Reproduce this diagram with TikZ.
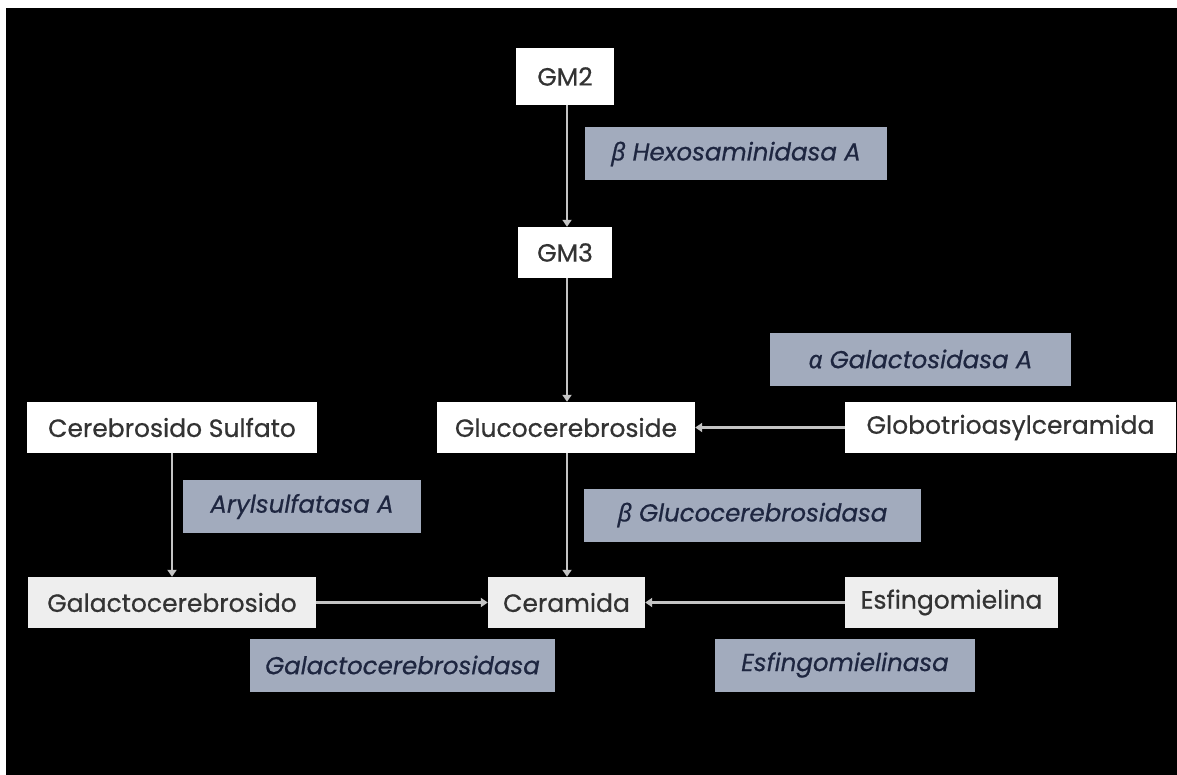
\documentclass[tikz,border=0pt]{standalone}
\usepackage{fontspec}
\setmainfont{Poppins}[FakeBold=0.6]
\newfontfamily\greekfont{Noto Sans}[FakeBold=0.6]
\usetikzlibrary{arrows.meta}
\definecolor{boxtext}{HTML}{333333}
\definecolor{enzfill}{HTML}{A2ABBD}
\definecolor{enztext}{HTML}{1E2640}
\definecolor{arrowcol}{HTML}{C4C4C4}
\definecolor{offwhite}{HTML}{EEEEEE}
\tikzset{
  wbox/.style={fill=white, draw=none, text=boxtext, inner sep=0pt, minimum height=51pt, font=\fontsize{25}{27}\selectfont},
  gbox/.style={wbox, fill=offwhite},
  enz/.style={fill=enzfill, draw=none, text=enztext, inner sep=0pt, minimum height=53pt, font=\fontsize{24.5}{27}\selectfont\itshape},
  arr/.style={draw=arrowcol, line width=2.6pt, -{Triangle[width=9pt,length=7pt]}}
}
\newcommand{\gk}[1]{{\greekfont\itshape #1}}
\begin{document}
\begin{tikzpicture}[x=1pt,y=-1pt]
\useasboundingbox (0,0) rectangle (1177,775);
\fill[white] (0,0) rectangle (1177,775);
\fill[black] (6,8) rectangle (1177,775);
% substrate boxes
\node[wbox, minimum width=98pt, minimum height=57pt] (gm2) at (565,76.5) {GM2};
\node[wbox, minimum width=94pt] (gm3) at (565,252.5) {GM3};
\node[wbox, minimum width=290pt] (cs) at (172,427.5) {Cerebrosido Sulfato};
\node[gbox, minimum width=288pt] (gal) at (172,602.5) {Galactocerebrosido};
\node[wbox, minimum width=258pt] (glu) at (566,427.5) {Glucocerebroside};
\node[wbox, minimum width=331pt] (glob) at (1010.5,427.5) {Globotrioasylceramida};
\node[gbox, minimum width=157pt] (cer) at (566.5,602.5) {Ceramida};
\node[gbox, minimum width=213pt] (esf) at (951.5,602.5) {Esfingomielina};
% enzyme boxes
\node[enz, minimum width=302pt] (hex) at (736,154) {\gk{β} Hexosaminidasa A};
\node[enz, minimum width=238pt] (aryl) at (302,506.5) {Arylsulfatasa A};
\node[enz, minimum width=305pt] (galase) at (402.5,665) {Galactocerebrosidasa};
\node[enz, minimum width=301pt] (agal) at (920.5,359) {\gk{α} Galactosidasa A};
\node[enz, minimum width=337pt] (bglu) at (752.5,515) {\gk{β} Glucocerebrosidasa};
\node[enz, minimum width=260pt] (esfase) at (845,665) {Esfingomielinasa};
% arrows
\draw[arr] (gm2.south) ++(2,0) coordinate (a1) -- (a1 |- gm3.north);
\draw[arr] (gm3.south) ++(2,0) coordinate (a2) -- (a2 |- glu.north);
\draw[arr] (glu.south) ++(1,0) coordinate (a3) -- (a3 |- cer.north);
\draw[arr] (glob.west) -- (glu.east);
\draw[arr] (cs.south) -- (gal.north);
\draw[arr] (gal.east) -- (cer.west);
\draw[arr] (esf.west) -- (cer.east);
\end{tikzpicture}
\end{document}
